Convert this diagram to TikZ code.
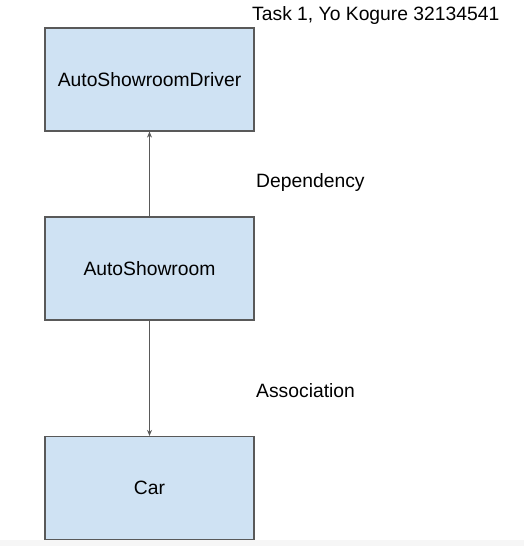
\documentclass[tikz,border=0pt]{standalone}
\usepackage{fontspec}
\setmainfont{Liberation Sans}
\usepackage{xcolor}
\usepackage{tikz}
\usetikzlibrary{positioning, arrows.meta}

\definecolor{classfill}{HTML}{CFE2F3}
\definecolor{classline}{HTML}{595959}

\tikzset{
  classbox/.style={draw=classline, fill=classfill, line width=1.2pt,
    minimum width=209pt, minimum height=103pt, inner sep=0pt,
    font=\fontsize{19.3}{23}\selectfont},
  relarrow/.style={line width=1pt, classline, -{Stealth[length=6pt,width=5pt]}},
  relnote/.style={anchor=base west, inner sep=0pt, font=\fontsize{19.3}{23}\selectfont}
}

\begin{document}
\begin{tikzpicture}[x=1pt, y=-1pt]
  \useasboundingbox (0,0) rectangle (524,546);
  \fill[gray!7] (0,540) rectangle (524,546);

  \node[classbox] (driver) at (149.5,79.5) {AutoShowroomDriver};
  \node[classbox] (showroom) at (149.5,268.5) {AutoShowroom};
  \node[classbox] (car) at (149.5,488) {Car};

  \draw[relarrow] (showroom.north) -- (driver.south);
  \draw[relarrow] (showroom.south) -- (car.north);

  \node[relnote] (title) at (252,20) {Task 1, Yo Kogure 32134541};
  \node[relnote] (dep) at (256,187) {Dependency};
  \node[relnote] (assoc) at (256,397) {Association};

\end{tikzpicture}
\end{document}
